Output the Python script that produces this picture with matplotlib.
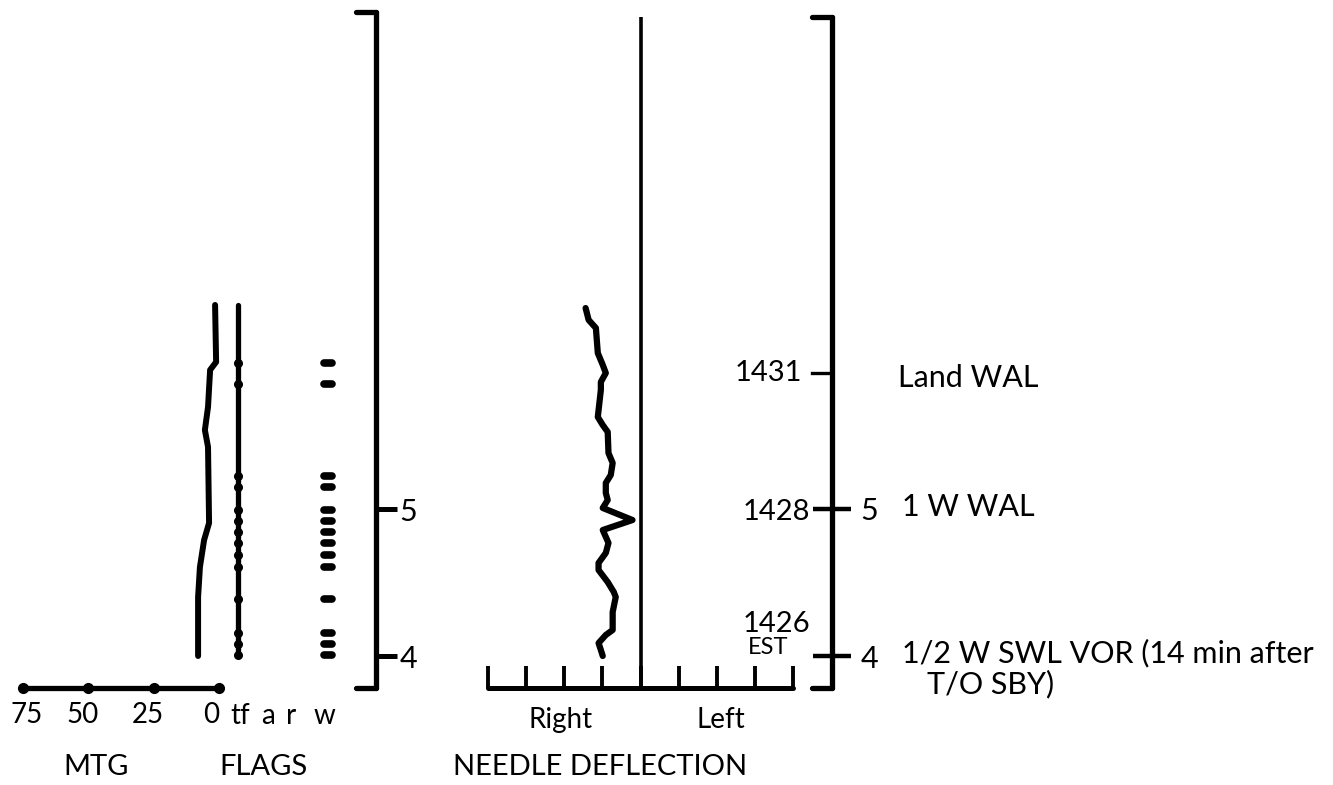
import matplotlib
matplotlib.use("Agg")
import matplotlib.pyplot as plt
import matplotlib.transforms as mtransforms

plt.rcParams['font.family'] = ['Lato', 'DejaVu Sans']

# ------------------------------------------------------------------
# DATA  (vertical coordinate = position along the track; the timeline
#        marks "4" and "5" sit at 4 and 5)
# ------------------------------------------------------------------
# MTG trace (percent)
mtg_pos = [6.388, 6.00, 5.946, 5.694, 5.537, 5.422, 4.905, 4.789, 4.605, 4.401, 4.00]
mtg_pct = [1.5, 1.1, 3.4, 4.2, 5.4, 4.2, 3.8, 5.7, 7.3, 8.0, 8.0]
mtg_ticks = [75, 50, 25, 0]

# Flags
flag_cols = ["tf", "a", "r", "w"]
flag_tf_span = [4.00, 6.388]
flag_events = [5.993, 5.850, 5.224, 5.150, 4.993, 4.918, 4.844, 4.769,
               4.687, 4.605, 4.388, 4.156, 4.082, 4.007]

# Needle deflection (scale divisions, negative = Right)
needle_pos = [6.367, 6.286, 6.231, 6.061, 5.980, 5.925, 5.864, 5.810, 5.626,
              5.571, 5.524, 5.381, 5.313, 5.231, 5.177, 5.109, 5.061, 5.007,
              4.925, 4.857, 4.769, 4.701, 4.633, 4.585, 4.503, 4.435, 4.401,
              4.299, 4.177, 4.143, 4.088, 4.041, 4.000]
needle_dev = [-1.44, -1.36, -1.17, -1.12, -0.99, -0.91, -1.04, -1.04, -1.12,
              -0.99, -0.86, -0.84, -0.73, -0.78, -0.91, -0.91, -0.86, -0.99,
              -0.21, -0.99, -0.84, -0.91, -1.10, -1.10, -0.86, -0.70, -0.65,
              -0.73, -0.73, -0.91, -1.10, -1.04, -0.99]
needle_ticks = [-4, -3, -2, -1, 0, 1, 2, 3, 4]

# Timeline
mark_pos = [4, 5]
mark_labels = ["4", "5"]
time_labels = ["1431", "1428", "1426"]
time_pos = [5.925, 4.98, 4.0]
event_pos = [5.925, 5.0, 4.0]
event_labels = ["Land WAL", "1 W WAL", "1/2 W SWL VOR (14 min after"]
event_cont = "T/O SBY)"

# ------------------------------------------------------------------
W, H = 1333, 785
fig = plt.figure(figsize=(W / 100, H / 100), dpi=100)
fig.patch.set_facecolor("white")
K = "black"


def v_of(px):
    return 4 + (656 - px) / 147.0


def add_ax(x0, x1, y0, y1):
    ax = fig.add_axes([x0 / W, 1 - y1 / H, (x1 - x0) / W, (y1 - y0) / H])
    ax.set_ylim(v_of(y1), v_of(y0))
    ax.patch.set_visible(False)
    for s in ax.spines.values():
        s.set_visible(False)
        s.set_linewidth(3.8)
        s.set_capstyle("round")
    ax.set_yticks([])
    ax.set_xticks([])
    return ax


line_kw = dict(color=K, solid_capstyle="round", solid_joinstyle="round", clip_on=False)

# ---------------- MTG ----------------
ax = add_ax(23, 219, 12, 688)
ax.set_xlim(75, 0)
ax.spines["bottom"].set_visible(True)
ax.set_xticks(mtg_ticks)
ax.set_xticklabels([str(t) for t in mtg_ticks])
ax.tick_params(axis="x", length=0, pad=10, labelsize=20)
for lab, dx in zip(ax.get_xticklabels(), [4, -6, -6, -8]):
    lab.set_transform(lab.get_transform() +
                      mtransforms.ScaledTranslation(dx / 100, 0, fig.dpi_scale_trans))
ax.plot(mtg_ticks, [ax.get_ylim()[0]] * len(mtg_ticks), "o", color=K, ms=7, clip_on=False)
ax.plot(mtg_pct, mtg_pos, lw=4.3, **line_kw)
fig.text(96 / W, 1 - 767 / H, "MTG", ha="center", va="center", fontsize=21)

# ---------------- FLAGS ----------------
ax = add_ax(238, 328, 12, 688)
ax.set_xlim(0, 3)
ax.set_xticks(range(len(flag_cols)))
ax.set_xticklabels(flag_cols)
ax.tick_params(axis="x", length=0, pad=11, labelsize=20)
for lab, dx in zip(ax.get_xticklabels(), [2, 0, -7, -4]):
    lab.set_transform(lab.get_transform() +
                      mtransforms.ScaledTranslation(dx / 100, 0, fig.dpi_scale_trans))
ax.plot([0, 0], flag_tf_span, lw=3.8, **line_kw)
ax.plot([0] * len(flag_events), flag_events, "o", color=K, ms=5.5, clip_on=False)
lc = ax.hlines(flag_events, 3 - 0.13, 3 + 0.13, color=K, lw=5.5, clip_on=False)
lc.set_capstyle("round")
fig.text(264 / W, 1 - 767 / H, "FLAGS", ha="center", va="center", fontsize=21)

# ---------------- left timeline ----------------
ax = add_ax(356, 376, 12, 688)
for s in ("right", "top", "bottom"):
    ax.spines[s].set_visible(True)
ax.yaxis.tick_right()
ax.set_yticks(mark_pos)
ax.set_yticklabels(mark_labels)
ax.tick_params(axis="y", direction="out", length=15, width=3.6, pad=2, labelsize=22)

# ---------------- needle deflection ----------------
ax = add_ax(488, 793, 17, 688)
ax.set_xlim(-4, 4)
ax.spines["bottom"].set_visible(True)
ax.spines["bottom"].set_linewidth(3.6)
ax.set_xticks(needle_ticks)
ax.tick_params(axis="x", direction="in", length=16, width=2.8, labelbottom=False)
ax.axvline(0, color=K, lw=2.6)
ax.plot(needle_dev, needle_pos, lw=4.5, **line_kw)
ax.text(-2.1, v_of(720), "Right", ha="center", va="center", fontsize=20)
ax.text(2.1, v_of(720), "Left", ha="center", va="center", fontsize=20)
fig.text(600 / W, 1 - 767 / H, "NEEDLE DEFLECTION", ha="center", va="center", fontsize=21)

# ---------------- right timeline ----------------
ax = add_ax(812, 832, 17, 688)
for s in ("right", "top", "bottom"):
    ax.spines[s].set_visible(True)
ax.yaxis.tick_right()
ax.set_yticks(mark_pos)
ax.set_yticklabels(mark_labels)
ax.tick_params(axis="y", direction="inout", length=27, width=3.2, pad=7, labelsize=22)
blend = mtransforms.blended_transform_factory(ax.transAxes, ax.transData)
ax.plot([0, 1], [time_pos[0]] * 2, color=K, lw=2.4, transform=blend, clip_on=False)
offs = [(-10, 0), (-2, 0), (-2, 32)]
for lab, pos, off in zip(time_labels, time_pos, offs):
    ax.annotate(lab, xy=(0, pos), xycoords=blend, xytext=off, textcoords="offset pixels",
                ha="right", va="center", fontsize=21)
ax.annotate("EST", xy=(0, time_pos[-1]), xycoords=blend, xytext=(-64, 8),
            textcoords="offset pixels", ha="left", va="center", fontsize=17)
ev_offs = [(66, -5), (70, 2), (70, 3)]
for lab, pos, off in zip(event_labels, event_pos, ev_offs):
    ax.annotate(lab, xy=(1, pos), xycoords=blend, xytext=off, textcoords="offset pixels",
                ha="left", va="center", fontsize=22)
ax.annotate(event_cont, xy=(1, event_pos[-1]), xycoords=blend, xytext=(95, -28),
            textcoords="offset pixels", ha="left", va="center", fontsize=22)

fig.savefig("out.png", dpi=100, facecolor="white")
